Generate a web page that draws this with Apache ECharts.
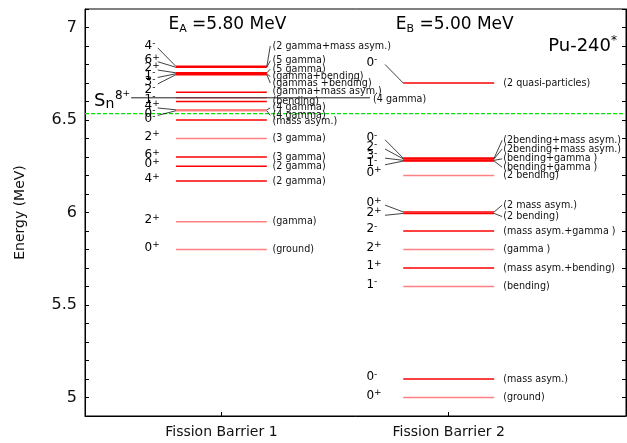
<!DOCTYPE html>
<html>
<head>
<meta charset="utf-8">
<script src="https://cdn.jsdelivr.net/npm/echarts@6/dist/echarts.min.js"></script>
<style>
html, body { margin: 0; padding: 0; background: #fff; }
#container { width: 627px; height: 443px; }
</style>
</head>
<body>
<div id="container"></div>
<script>
// x axis: the two barriers
var barrierNames = ['Fission Barrier 1', 'Fission Barrier 2'];
var barrierTags = ['A', 'B'];
var barrierEnergy = [5.80, 5.00];
var snEnergy = 6.534;
var yTicks = [5, 5.5, 6, 6.5, 7];

// barrier 1 levels (MeV), spin, mode, where the labels sit, 1 = red / 0 = pink
var energyA = [5.80, 5.95, 6.17, 6.25, 6.30, 6.40, 6.50, 6.55, 6.555, 6.60, 6.62, 6.65, 6.745, 6.75, 6.755, 6.785, 6.79];
var spinA = ['0+', '2+', '4+', '0+', '6+', '2+', '0-', '0-', '4+', '1-', '8+', '2-', '3-', '1-', '2+', '6+', '4-'];
var modeA = ['(ground)', '(gamma)', '(2 gamma)', '(2 gamma)', '(3 gamma)', '(3 gamma)', '(mass asym.)', '(4 gamma)', '(4 gamma)',
             '(bending)', '(4 gamma)', '(gamma+mass asym.)', '(gammas +bending)', '(gamma+bending)', '(5 gamma)', '(5 gamma)',
             '(2 gamma+mass asym.)'];
var spinTagA = [5.80, 5.95, 6.17, 6.25, 6.30, 6.40, 6.493, 6.525, 6.565, 6.60, 6.62, 6.652, 6.695, 6.73, 6.77, 6.815, 6.89];
var modeTagA = [5.80, 5.95, 6.17, 6.25, 6.30, 6.40, 6.493, 6.525, 6.565, 6.60, 6.62, 6.652, 6.70, 6.735, 6.775, 6.82, 6.90];
var kindA = [0, 0, 1, 1, 1, 0, 1, 0, 0, 1, 0, 1, 1, 1, 1, 1, 1];
var crossA = [0, 0, 0, 0, 0, 0, 0, 0, 0, 0, 1, 0, 0, 0, 0, 0, 0];

// barrier 2 levels
var energyB = [5.00, 5.10, 5.60, 5.70, 5.80, 5.90, 5.995, 6.003, 6.20, 6.278, 6.282, 6.29, 6.294, 6.70];
var spinB = ['0+', '0-', '1-', '1+', '2+', '2-', '2+', '0+', '0+', '1-', '3-', '2-', '0-', '0-'];
var modeB = ['(ground)', '(mass asym.)', '(bending)', '(mass asym.+bending)', '(gamma )', '(mass asym.+gamma )', '(2 bending)',
             '(2 mass asym.)', '(2 bending)', '(bending+gamma )', '(bending+gamma )', '(2bending+mass asym.)',
             '(2bending+mass asym.)', '(2 quasi-particles)'];
var spinTagB = [5.00, 5.10, 5.60, 5.70, 5.80, 5.90, 5.985, 6.04, 6.205, 6.258, 6.294, 6.343, 6.393, 6.80];
var modeTagB = [5.00, 5.10, 5.60, 5.70, 5.80, 5.90, 5.978, 6.04, 6.20, 6.245, 6.29, 6.343, 6.39, 6.70];
var kindB = [0, 1, 0, 1, 0, 1, 1, 1, 0, 1, 1, 1, 1, 1];

var FONT = 'DejaVu Sans';
var colors = ['#ff8080', '#ff0000'];
// offsets around each barrier centre, in x units
var geom = { half: 0.2, lead: 0.28, spinX: [-0.338, -0.362], modeX: [0.225, 0.24], modeLead: [0.215, 0.235],
             crossL: -0.397, crossR: 0.654 };

var rows = [];
function addRows(b, en, sp, md, st, mt, kd, cr) {
    for (var i = 0; i < en.length; i++) {
        rows.push({ b: b, e: en[i], spin: sp[i], mode: md[i], se: st[i], me: mt[i], kind: kd[i], cross: cr ? cr[i] : 0 });
    }
}
addRows(0, energyA, spinA, modeA, spinTagA, modeTagA, kindA, crossA);
addRows(1, energyB, spinB, modeB, spinTagB, modeTagB, kindB, null);

var spinRich = {
    b: { fontSize: 12, fontFamily: FONT, lineHeight: 14, color: '#111' },
    p: { fontSize: 9, fontFamily: FONT, lineHeight: 7, verticalAlign: 'top', color: '#111' }
};
function spinText(s) {
    return '{b|' + s.slice(0, -1) + '}{p|' + s.slice(-1) + '}';
}
function seg(a, b, color, w) {
    return { type: 'line', shape: { x1: a[0], y1: a[1], x2: b[0], y2: b[1] }, style: { stroke: color, lineWidth: w } };
}
function modeStyle(txt) {
    return { text: txt, fontSize: 9.6, fontFamily: FONT, fill: '#111', align: 'left', verticalAlign: 'middle' };
}

function renderLevel(params, api) {
    var r = rows[params.dataIndex];
    var bx = api.value(0), e = api.value(1);
    var b = r.b;
    var kids = [];
    var p0 = api.coord([bx - geom.half, e]);
    var p1 = api.coord([bx + geom.half, e]);
    kids.push(seg(p0, p1, colors[r.kind], 1.6));
    if (r.cross) {
        var c0 = api.coord([bx + geom.crossL, e]);
        var c1 = api.coord([bx + geom.crossR, e]);
        kids.push(seg(c0, c1, '#222', 1));
        kids.push({ type: 'text', x: c0[0] - 1, y: c0[1] - 2,
            style: { text: spinText(r.spin), rich: spinRich, align: 'right', verticalAlign: 'middle' } });
        kids.push({ type: 'text', x: c1[0] + 3, y: c1[1] + 2, style: modeStyle(r.mode) });
        return { type: 'group', children: kids };
    }
    var sp = api.coord([bx + geom.spinX[b], r.se]);
    kids.push({ type: 'text', x: sp[0], y: sp[1] - 2,
        style: { text: spinText(r.spin), rich: spinRich, align: 'left', verticalAlign: 'middle' } });
    if (Math.abs(r.se - e) > 0.008) {
        kids.push(seg(api.coord([bx - geom.lead, r.se]), p0, '#111', 0.8));
    }
    var mp = api.coord([bx + geom.modeX[b], r.me]);
    kids.push({ type: 'text', x: mp[0], y: mp[1], style: modeStyle(r.mode) });
    if (Math.abs(r.me - e) > 0.008) {
        kids.push(seg(p1, api.coord([bx + geom.modeLead[b], r.me]), '#111', 0.8));
    }
    return { type: 'group', children: kids };
}

function renderSn(params, api) {
    var cs = params.coordSys;
    var y = api.coord([1, api.value(0)])[1];
    return { type: 'group', children: [
        { type: 'line', shape: { x1: cs.x, y1: y, x2: cs.x + cs.width, y2: y },
          style: { stroke: '#00e600', lineWidth: 1.2, lineDash: [4, 2] } },
        { type: 'text', x: cs.x + 9, y: y - 12,
          style: { text: '{s|S}{n|n}', align: 'left', verticalAlign: 'middle', rich: {
              s: { fontSize: 18, fontFamily: FONT, lineHeight: 20, color: '#111' },
              n: { fontSize: 14, fontFamily: FONT, lineHeight: 10, verticalAlign: 'bottom', color: '#111' } } } }
    ] };
}

function renderHeader(params, api) {
    var cs = params.coordSys;
    var i = params.dataIndex;
    var x = api.coord([i + 1, 6])[0] + 6;
    return { type: 'text', x: x, y: cs.y + 16, style: {
        text: '{e|E}{s|' + barrierTags[i] + '}{e| =' + api.value(1).toFixed(2) + ' MeV}',
        align: 'center', verticalAlign: 'middle', rich: {
            e: { fontSize: 17, fontFamily: FONT, lineHeight: 20, color: '#111' },
            s: { fontSize: 11, fontFamily: FONT, lineHeight: 8, verticalAlign: 'bottom', color: '#111' } } } };
}

var myChart = echarts.init(document.getElementById('container'));
var option = {
    animation: false,
    backgroundColor: '#fff',
    grid: { left: 85, right: 1, top: 9, bottom: 27, show: true, borderColor: '#000', borderWidth: 1 },
    graphic: [{
        type: 'text', right: 10, top: 35,
        style: { text: '{a|Pu-240}{b|*}', rich: {
            a: { fontSize: 18, fontFamily: FONT, lineHeight: 22, color: '#111' },
            b: { fontSize: 12, fontFamily: FONT, lineHeight: 8, verticalAlign: 'top', color: '#111' } } }
    }],
    xAxis: {
        type: 'value', min: 0.4, max: 2.78,
        splitLine: { show: false },
        axisLine: { lineStyle: { color: '#000' } },
        axisTick: { customValues: [1, 2], inside: true, length: 4, lineStyle: { color: '#000' } },
        axisLabel: { customValues: [1, 2], margin: 9, fontSize: 14, fontFamily: FONT, color: '#111',
            formatter: function (v) { return barrierNames[Math.round(v) - 1]; } }
    },
    yAxis: [{
        type: 'value', min: 4.9, max: 7.1, interval: 0.1,
        name: 'Energy (MeV)', nameLocation: 'middle', nameGap: 58,
        nameTextStyle: { fontSize: 14, fontFamily: FONT, color: '#111' },
        splitLine: { show: false },
        axisLine: { show: true, lineStyle: { color: '#000' } },
        axisTick: { inside: true, length: 4, lineStyle: { color: '#000' } },
        axisLabel: { customValues: yTicks, margin: 8, fontSize: 16, fontFamily: FONT, color: '#111',
            formatter: function (v) { return String(+v.toFixed(1)); } }
    }, {
        type: 'value', min: 4.9, max: 7.1, interval: 0.1, position: 'right',
        splitLine: { show: false },
        axisLine: { show: true, lineStyle: { color: '#000' } },
        axisTick: { inside: true, length: 4, lineStyle: { color: '#000' } },
        axisLabel: { show: false }
    }],
    series: [{
        type: 'custom', name: 'Sn', renderItem: renderSn, silent: true,
        data: [[snEnergy]], encode: { y: 0 }
    }, {
        type: 'custom', name: 'levels', renderItem: renderLevel, silent: true,
        data: rows.map(function (r) { return [r.b + 1, r.e]; })
    }, {
        type: 'custom', name: 'headers', renderItem: renderHeader, silent: true,
        data: barrierEnergy.map(function (v, i) { return [i + 1, v]; }), encode: { x: 0 }
    }]
};
myChart.setOption(option);
</script>
</body>
</html>
